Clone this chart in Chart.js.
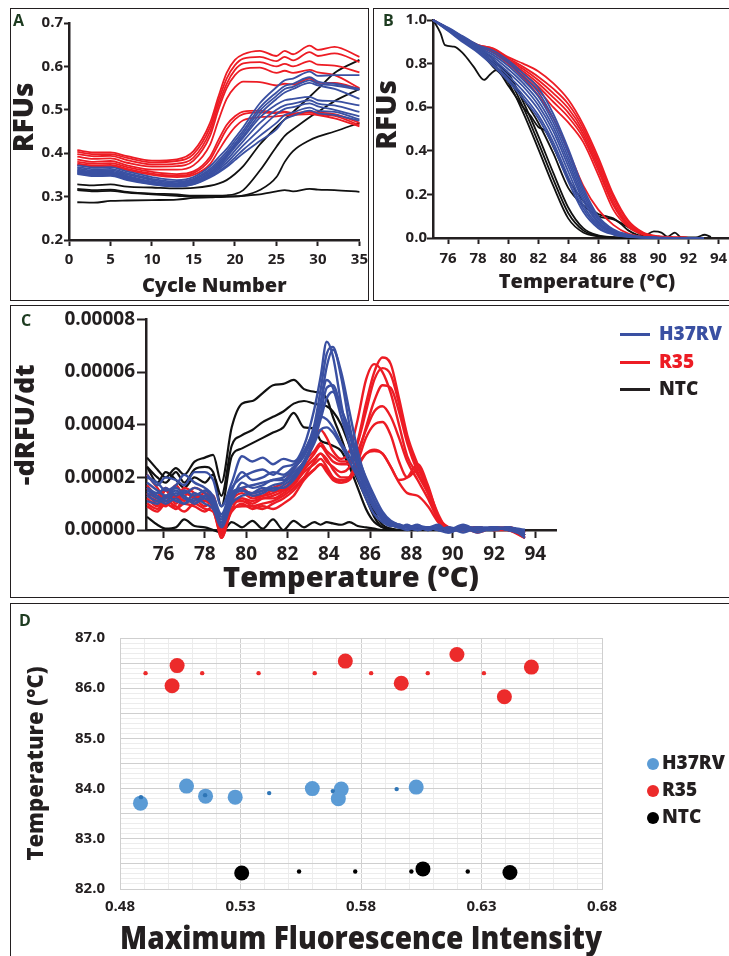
<!DOCTYPE html>
<html>
<head>
<meta charset="utf-8">
<title>qPCR amplification and melt analysis</title>
<script src="https://cdn.jsdelivr.net/npm/chart.js"></script>
<style>
  body { margin: 0; background: #fff; }
  #fig { position: relative; width: 729px; height: 956px; overflow: hidden; background: #fff; font-family: 'Open Sans', sans-serif; }
  canvas { position: absolute; }
  .box { position: absolute; border: 1.5px solid #231f20; box-sizing: border-box; pointer-events: none; }
  .tag { position: absolute; font: bold 16px/1 'Open Sans'; color: #1d3b20; }
  .key { position: absolute; font: 800 19px/26px 'Open Sans'; white-space: nowrap; }
  .key i { display: inline-block; width: 30px; height: 3px; vertical-align: middle; margin-right: 9px; }
  .dot { position: absolute; font: 800 19px/26px 'Open Sans'; white-space: nowrap; color: #231f20; }
  .dot i { display: inline-block; width: 12px; height: 12px; border-radius: 50%; vertical-align: middle; margin-right: 3px; }
</style>
</head>
<body>
<div id="fig">
  <canvas id="chartA" width="362" height="291" style="left:11px;top:9px"></canvas>
  <canvas id="chartB" width="382" height="291" style="left:374px;top:9px"></canvas>
  <canvas id="chartC" width="718" height="291" style="left:11px;top:306px"></canvas>
  <canvas id="chartD" width="718" height="351" style="left:11px;top:605px"></canvas>

  <div class="box" style="left:10px;top:8px;width:359px;height:293px"></div>
  <div class="box" style="left:373px;top:8px;width:370px;height:293px"></div>
  <div class="box" style="left:10px;top:305px;width:730px;height:293px"></div>
  <div class="box" style="left:10px;top:603px;width:730px;height:370px"></div>

  <div class="tag" style="left:13px;top:12px">A</div>
  <div class="tag" style="left:383px;top:12px">B</div>
  <div class="tag" style="left:21px;top:312px">C</div>
  <div class="tag" style="left:19px;top:612px">D</div>

  <div class="key" style="left:620px;top:320px;color:#3a50a2"><i style="background:#3a50a2"></i>H37RV</div>
  <div class="key" style="left:620px;top:348px;color:#ed1c24"><i style="background:#ed1c24"></i>R35</div>
  <div class="key" style="left:620px;top:375px;color:#231f20"><i style="background:#231f20"></i>NTC</div>

  <div class="dot" style="left:647px;top:749px"><i style="background:#5b9bd5"></i>H37RV</div>
  <div class="dot" style="left:647px;top:776px"><i style="background:#ec2b2b"></i>R35</div>
  <div class="dot" style="left:647px;top:803px"><i style="background:#000"></i>NTC</div>
</div>

<script>
const RED = '#ed1c24';
const BLUE = '#3a50a2';
const BLACK = '#111111';
const INK = '#231f20';

// ---- A: amplification curves (RFU per cycle)
const cycles = [1, 3, 5, 7, 10, 13, 15, 17, 18, 19, 20, 21, 23, 25, 26, 27, 29, 30, 32, 35];
const ampR35 = [
  [.407, .402, .402, .393, .383, .386, .405, .470, .530, .585, .615, .628, .636, .624, .636, .628, .648, .638, .645, .622],
  [.403, .398, .398, .389, .379, .382, .398, .460, .520, .572, .603, .618, .622, .612, .622, .614, .633, .624, .630, .610],
  [.398, .393, .394, .384, .374, .376, .390, .450, .510, .560, .592, .607, .610, .600, .606, .600, .612, .604, .602, .586],
  [.392, .387, .388, .378, .369, .370, .383, .440, .500, .550, .580, .594, .597, .585, .590, .585, .592, .586, .580, .550],
  [.385, .380, .382, .372, .362, .362, .372, .420, .475, .525, .552, .565, .564, .556, .560, .558, .572, .562, .562, .548],
  [.380, .376, .377, .368, .357, .352, .358, .392, .430, .465, .485, .496, .498, .494, .496, .492, .496, .494, .490, .470],
  [.376, .372, .373, .364, .353, .348, .354, .385, .420, .455, .478, .490, .494, .492, .494, .490, .494, .490, .486, .465],
  [.373, .369, .370, .361, .350, .345, .350, .375, .405, .435, .460, .476, .483, .485, .487, .488, .490, .488, .480, .462]
];
const ampH37RV = [
  [.372, .367, .368, .358, .345, .338, .345, .370, .390, .410, .435, .460, .515, .552, .568, .572, .588, .578, .580, .580],
  [.368, .363, .364, .354, .341, .334, .341, .364, .383, .403, .428, .452, .505, .540, .555, .560, .575, .565, .560, .548],
  [.365, .360, .361, .351, .338, .331, .338, .360, .378, .398, .422, .446, .498, .532, .548, .553, .568, .560, .556, .546],
  [.362, .357, .358, .348, .335, .329, .335, .356, .374, .394, .418, .440, .490, .525, .540, .548, .562, .556, .548, .525],
  [.360, .355, .356, .346, .333, .327, .333, .353, .370, .390, .414, .436, .482, .512, .522, .525, .530, .522, .520, .510],
  [.358, .353, .354, .344, .331, .326, .331, .350, .366, .384, .406, .428, .470, .500, .510, .514, .522, .514, .510, .495],
  [.356, .351, .352, .342, .330, .325, .330, .348, .362, .378, .398, .418, .455, .490, .502, .506, .515, .508, .500, .485],
  [.354, .349, .350, .340, .329, .324, .329, .346, .358, .372, .390, .408, .440, .470, .488, .494, .505, .498, .495, .478],
  [.352, .347, .348, .338, .328, .323, .328, .344, .355, .368, .384, .400, .428, .455, .478, .486, .498, .492, .488, .475]
];
const ampNTC = [
  [.328, .326, .328, .323, .321, .319, .320, .325, .330, .338, .352, .370, .420, .460, .478, .495, .530, .548, .585, .615],
  [.318, .315, .316, .311, .307, .305, .302, .302, .302, .303, .306, .315, .360, .415, .440, .455, .483, .495, .520, .548],
  [.315, .312, .313, .309, .305, .302, .300, .299, .299, .300, .300, .302, .315, .345, .380, .405, .430, .438, .450, .470],
  [.287, .286, .290, .291, .292, .293, .297, .298, .299, .300, .301, .302, .305, .312, .315, .312, .318, .316, .315, .311]
];

// ---- B: normalised melt curves
const meltTemps = [75, 76, 77, 78, 79, 80, 81, 82, 83, 84, 85, 86, 87, 88, 89, 90, 91, 92, 93];
const meltR35 = [
  [1, .96, .92, .885, .87, .83, .80, .765, .71, .635, .52, .37, .20, .08, .025, .008, .003, .001, 0],
  [1, .96, .92, .885, .868, .825, .785, .74, .685, .615, .505, .355, .19, .075, .022, .006, .002, .001, 0],
  [1, .96, .92, .883, .862, .818, .775, .725, .665, .595, .49, .34, .175, .065, .02, .006, .002, .001, 0],
  [1, .96, .92, .882, .858, .81, .765, .71, .645, .575, .475, .325, .16, .06, .018, .005, .002, .001, 0],
  [1, .96, .92, .88, .855, .805, .755, .695, .625, .555, .46, .31, .15, .055, .016, .005, .002, .001, 0],
  [1, .96, .92, .88, .85, .80, .745, .68, .60, .53, .44, .29, .13, .05, .015, .004, .001, 0, 0],
  [1, .96, .92, .88, .855, .80, .735, .655, .55, .40, .24, .13, .06, .02, .006, .002, .001, 0, 0]
];
const meltH37RV = [
  [1, .965, .925, .885, .86, .815, .755, .69, .57, .41, .23, .10, .04, .015, .005, .002, .001, .001, 0],
  [1, .963, .922, .88, .85, .805, .74, .67, .55, .39, .215, .09, .035, .012, .004, .002, .001, 0, 0],
  [1, .96, .918, .875, .84, .79, .725, .65, .53, .37, .20, .085, .032, .01, .004, .001, .001, 0, 0],
  [1, .958, .914, .87, .83, .775, .71, .63, .51, .35, .185, .075, .028, .01, .003, .001, 0, 0, 0],
  [1, .956, .91, .865, .82, .76, .695, .61, .49, .33, .17, .068, .025, .008, .003, .001, 0, 0, 0],
  [1, .954, .906, .86, .81, .745, .675, .59, .465, .305, .15, .06, .022, .007, .002, .001, 0, 0, 0],
  [1, .952, .902, .855, .80, .73, .655, .565, .44, .28, .135, .052, .018, .006, .002, .001, 0, 0, 0],
  [1, .95, .898, .85, .79, .72, .64, .55, .42, .26, .12, .045, .016, .005, .002, .001, 0, 0, 0]
];
const meltNTC = [
  [1, .96, .918, .872, .805, .755, .625, .47, .30, .14, .045, .012, .004, .001, 0, 0, 0, 0, 0],
  [1, .958, .915, .868, .795, .735, .60, .44, .27, .115, .035, .01, .003, .001, 0, 0, 0, 0, 0],
  [1, .955, .91, .862, .785, .715, .575, .41, .24, .09, .025, .008, .002, .001, 0, 0, 0, 0, 0],
  [1, .96, .92, .875, .82, .74, .64, .53, .39, .23, .15, .10, .085, .05, .012, .004, .001, 0, 0]
];
// one NTC trace is noisy, read on its own temperature points
const ntcNoisyTemps = [75, 75.5, 75.8, 76.4, 77, 77.7, 78.4, 78.8, 79.2, 80, 81, 81.5, 82, 82.5, 83, 84, 85, 86, 86.5, 87, 87.5, 88, 89, 89.7, 90.2, 90.6, 91.1, 91.5, 92.5, 93.1, 93.5];
const ntcNoisyRfu = [1, .94, .885, .878, .847, .786, .725, .75, .77, .70, .60, .56, .51, .49, .42, .27, .17, .11, .10, .09, .065, .035, .008, .03, .025, .006, .025, .004, .003, .015, .004];

// ---- C: derivative melt peaks, -dRFU/dt in units of 1e-5
const derivTemps = [75.2, 75.7, 76.1, 76.6, 77.0, 77.5, 78.0, 78.4, 78.8, 79.3,
  79.8, 80.3, 80.8, 81.3, 81.8, 82.3, 82.8, 83.3, 83.6, 83.9,
  84.2, 84.6, 85.0, 85.4, 85.8, 86.2, 86.6, 87.0, 87.4, 87.8,
  88.3, 88.8, 89.3, 89.8, 90.5, 91.2, 92.0, 92.7, 93.5];
const derivH37RV = [
  [2.1, 1.7, 2.0, 1.9, 1.7, 2.2, 2.2, 1.9, 0.9, 1.8, 2.8, 2.6, 2.75, 2.5, 2.7, 2.6, 3.2, 4.6, 5.8, 7.15, 6.6, 4.8, 3.2, 2.0, 1.2, 0.6, 0.3, 0.15, 0.2, 0.1, 0.15, 0.1, 0.2, -0.1, 0.1, -0.1, 0.1, 0.0, -0.2],
  [1.6, 1.4, 1.6, 1.3, 1.5, 1.3, 1.5, 1.2, 0.5, 1.4, 1.6, 1.7, 1.8, 1.9, 2.0, 2.3, 2.9, 4.0, 5.3, 6.7, 6.95, 5.8, 4.0, 2.6, 1.6, 0.9, 0.4, 0.2, 0.1, 0.15, 0.1, 0.1, 0.0, 0.1, -0.1, 0.1, 0.0, 0.1, -0.3],
  [1.3, 1.1, 1.2, 1.5, 1.2, 1.1, 1.3, 1.0, 0.2, 1.2, 1.5, 1.4, 1.5, 1.7, 1.8, 2.1, 2.6, 3.6, 4.8, 6.2, 6.85, 6.0, 4.5, 3.0, 1.9, 1.1, 0.5, 0.25, 0.15, 0.1, 0.2, 0.0, 0.1, 0.0, 0.1, 0.0, 0.1, 0.0, -0.1],
  [1.8, 1.5, 1.3, 1.6, 1.4, 1.6, 1.4, 1.1, 0.4, 1.5, 2.2, 1.9, 2.0, 2.2, 2.1, 2.4, 2.8, 3.8, 4.8, 5.7, 5.4, 4.3, 3.3, 2.4, 1.6, 0.9, 0.5, 0.3, 0.2, 0.1, 0.0, 0.1, 0.1, 0.0, 0.2, 0.0, 0.1, 0.1, 0.0],
  [1.1, 1.0, 1.3, 1.1, 1.0, 1.2, 1.0, 0.8, 0.1, 1.0, 1.3, 1.4, 1.6, 1.5, 1.7, 2.0, 2.5, 3.5, 4.4, 5.4, 5.5, 4.6, 3.6, 2.6, 1.8, 1.1, 0.6, 0.3, 0.1, 0.2, 0.0, 0.1, 0.0, -0.1, 0.1, 0.1, 0.0, 0.1, -0.2],
  [1.5, 1.3, 1.1, 1.4, 1.3, 1.0, 1.2, 0.9, 0.3, 1.1, 1.8, 1.6, 1.7, 1.9, 1.9, 2.2, 2.6, 3.4, 4.2, 5.0, 5.25, 4.6, 3.8, 2.8, 2.0, 1.3, 0.7, 0.35, 0.2, 0.1, 0.1, 0.0, 0.1, 0.0, 0.0, 0.1, 0.1, 0.0, -0.1],
  [2.0, 1.8, 1.5, 1.7, 2.1, 1.8, 1.6, 1.3, 0.6, 1.6, 2.0, 2.2, 2.3, 2.1, 2.4, 2.5, 3.0, 3.8, 4.3, 4.2, 3.9, 3.3, 2.8, 2.2, 1.5, 0.9, 0.4, 0.2, 0.1, 0.1, 0.0, 0.1, 0.0, 0.1, 0.0, 0.0, 0.1, 0.0, 0.0],
  [1.4, 1.2, 1.0, 1.2, 1.0, 1.4, 1.2, 1.0, 0.2, 1.3, 1.5, 1.3, 1.4, 1.6, 1.6, 1.9, 2.5, 3.3, 3.8, 3.9, 3.7, 3.2, 2.6, 2.0, 1.4, 0.8, 0.4, 0.2, 0.1, 0.0, 0.1, 0.0, 0.1, 0.0, 0.1, 0.0, 0.0, 0.1, -0.1]
];
const derivR35 = [
  [1.4, 1.0, 1.5, 1.0, 1.4, 1.2, 0.9, 1.1, -0.3, 0.8, 1.2, 1.0, 1.2, 1.3, 1.5, 2.0, 2.6, 3.0, 3.3, 3.0, 2.8, 2.6, 2.6, 3.4, 4.8, 6.0, 6.55, 6.3, 5.0, 3.6, 2.5, 1.6, 0.6, 0.0, 0.1, 0.0, 0.1, 0.1, -0.2],
  [2.1, 1.6, 1.2, 1.7, 1.3, 1.6, 1.4, 1.0, 0.0, 1.3, 1.5, 1.4, 1.5, 1.6, 1.8, 2.3, 2.9, 3.5, 3.8, 3.5, 3.0, 2.7, 3.0, 4.2, 5.7, 6.3, 6.0, 5.2, 4.0, 2.8, 2.1, 1.4, 0.5, 0.0, 0.1, -0.1, 0.1, 0.0, -0.3],
  [1.2, 0.9, 1.3, 0.8, 1.2, 1.0, 1.3, 0.8, -0.2, 1.0, 1.1, 0.9, 0.8, 1.0, 1.2, 1.5, 2.0, 2.6, 2.9, 2.6, 2.4, 2.2, 2.4, 3.3, 4.5, 5.7, 6.15, 5.9, 4.8, 3.4, 2.4, 1.5, 0.5, 0.1, 0.0, 0.1, 0.0, 0.1, -0.1],
  [1.0, 0.8, 1.1, 0.9, 0.7, 1.0, 0.8, 0.7, -0.1, 0.7, 1.0, 0.8, 0.9, 0.8, 1.0, 1.3, 1.9, 2.3, 2.5, 2.3, 2.0, 1.9, 2.0, 2.8, 3.9, 4.9, 5.5, 5.4, 4.5, 3.3, 2.2, 1.4, 0.4, 0.0, 0.1, 0.0, 0.1, 0.0, -0.2],
  [1.7, 1.3, 1.6, 1.2, 1.6, 1.4, 1.1, 1.3, 0.1, 1.2, 1.6, 1.3, 1.3, 1.4, 1.6, 1.9, 2.4, 2.9, 3.2, 2.9, 2.6, 2.5, 2.5, 3.0, 3.8, 4.5, 4.7, 4.3, 3.5, 2.6, 1.9, 1.2, 0.4, 0.1, 0.0, 0.1, 0.0, 0.1, -0.1],
  [1.3, 1.1, 0.9, 1.3, 1.1, 1.3, 1.1, 0.9, -0.1, 1.0, 1.2, 1.1, 1.2, 1.2, 1.4, 1.7, 2.2, 2.5, 2.7, 2.4, 2.0, 1.8, 1.9, 2.4, 2.9, 3.05, 2.9, 2.4, 1.8, 1.4, 1.3, 0.9, 0.3, 0.0, 0.1, 0.0, 0.1, 0.0, -0.2],
  [1.6, 1.2, 1.5, 1.1, 1.5, 1.2, 1.4, 1.1, 0.0, 1.1, 1.4, 1.2, 1.3, 1.5, 1.5, 1.8, 2.3, 2.7, 2.9, 2.7, 2.3, 2.0, 2.0, 2.5, 2.9, 3.0, 2.9, 2.4, 1.9, 2.0, 2.5, 1.7, 0.5, 0.0, 0.1, 0.1, 0.0, 0.0, -0.3],
  [0.9, 0.7, 1.0, 0.8, 1.0, 0.9, 0.7, 0.9, -0.3, 0.8, 0.9, 0.9, 1.0, 1.1, 1.3, 1.6, 2.0, 2.3, 2.5, 2.2, 1.9, 1.8, 2.0, 2.6, 3.5, 4.0, 4.1, 3.6, 2.6, 2.0, 2.3, 1.6, 0.4, 0.0, 0.0, 0.1, 0.0, 0.1, -0.1]
];
const derivNTC = [
  [2.75, 2.3, 2.0, 2.35, 2.1, 2.6, 2.75, 2.85, 1.8, 3.9, 4.8, 4.9, 5.2, 5.5, 5.55, 5.7, 5.35, 5.25, 5.2, 5.0, 4.3, 3.5, 2.6, 1.9, 1.2, 0.5, 0.1, 0.05, 0.0, 0.0, 0.05, 0.0, 0.0, 0.05, 0.0, 0.0, 0.05, 0.0, 0.0],
  [2.4, 1.8, 2.2, 1.9, 1.6, 2.0, 1.8, 2.1, 1.3, 3.2, 3.6, 3.8, 4.1, 4.3, 4.5, 4.8, 4.9, 4.8, 4.75, 4.7, 4.5, 4.0, 3.2, 2.4, 1.5, 0.7, 0.2, 0.05, 0.0, 0.0, 0.0, 0.05, 0.0, 0.0, 0.05, 0.0, 0.0, 0.0, 0.0],
  [2.4, 2.0, 1.8, 2.2, 1.8, 2.3, 2.4, 2.2, 0.9, 2.8, 3.1, 3.3, 3.5, 3.7, 3.9, 4.45, 3.9, 3.85, 3.4, 3.3, 3.2, 3.0, 2.4, 1.6, 0.8, 0.3, 0.1, 0.0, 0.0, 0.0, 0.0, 0.0, 0.05, 0.0, 0.0, 0.05, 0.0, 0.0, 0.0],
  [0.5, 0.2, 0.05, 0.1, 0.4, 0.15, 0.1, 0.0, -0.1, 0.3, 0.1, 0.35, 0.05, 0.4, 0.0, 0.35, 0.1, 0.3, 0.2, 0.3, 0.25, 0.2, 0.3, 0.15, 0.1, 0.05, 0.0, 0.0, 0.0, 0.0, 0.0, 0.0, 0.0, 0.0, 0.0, 0.0, 0.0, 0.0, 0.0]
];

// ---- D: peak temperature vs maximum fluorescence
const maxH37RV = [0.4885, 0.5076, 0.5155, 0.5278, 0.5598, 0.5718, 0.5706, 0.6029];
const tmH37RV = [83.71, 84.05, 83.85, 83.83, 84.00, 83.99, 83.80, 84.03];
const maxR35 = [0.5016, 0.5037, 0.5735, 0.5967, 0.6198, 0.6395, 0.6507];
const tmR35 = [86.05, 86.45, 86.54, 86.10, 86.67, 85.83, 86.42];
const maxNTC = [0.5305, 0.6057, 0.6418];
const tmNTC = [82.32, 82.40, 82.33];
// the small markers in the same colours
const meanH37RVx = [0.4887, 0.5153, 0.5419, 0.5683, 0.5948];
const meanH37RVy = [83.83, 83.87, 83.91, 83.95, 83.99];
const meanR35x = [0.4906, 0.5141, 0.5375, 0.5608, 0.5842, 0.6077, 0.6310];
const meanR35y = [86.30, 86.30, 86.30, 86.30, 86.30, 86.30, 86.30];
const meanNTCx = [0.5543, 0.5776, 0.6009, 0.6243];
const meanNTCy = [82.35, 82.35, 82.35, 82.35];

Chart.defaults.font.family = "'Open Sans', sans-serif";
Chart.defaults.font.weight = 'bold';
Chart.defaults.color = INK;

function curves(xs, rows, color, width) {
  return rows.map(ys => ({
    data: ys.map((y, i) => ({ x: xs[i], y: y })),
    borderColor: color,
    borderWidth: width,
    pointRadius: 0,
    cubicInterpolationMode: 'monotone',
    clip: false
  }));
}

function dots(xs, ys, color, r) {
  return {
    data: xs.map((x, i) => ({ x: x, y: ys[i] })),
    backgroundColor: color,
    borderWidth: 0,
    pointRadius: r
  };
}

// black axis with outward tick marks, as in panels A-C
function inkAxis(o) {
  return {
    type: 'linear',
    min: o.min,
    max: o.max,
    ticks: {
      stepSize: o.step, includeBounds: o.bounds !== false, padding: o.pad,
      font: { size: o.size }, color: INK, maxRotation: 0, autoSkip: false,
      callback: o.fmt
    },
    grid: { drawOnChartArea: false, tickLength: o.tick, tickWidth: 2, color: INK },
    border: { color: INK, width: 2.5 },
    title: {
      display: true, text: o.title, color: INK,
      font: { size: o.titleSize, weight: '800', lineHeight: o.titleLH || 1.2 },
      padding: o.titlePad
    },
    afterFit: s => { if (s.isHorizontal()) s.height = o.fit; else s.width = o.fit; }
  };
}

function baseOptions(padding, scales) {
  return {
    responsive: false,
    animation: false,
    events: [],
    layout: { padding: padding },
    plugins: { legend: { display: false }, tooltip: { enabled: false } },
    scales: scales
  };
}

new Chart(document.getElementById('chartA'), {
  type: 'line',
  data: {
    datasets: [
      ...curves(cycles, ampH37RV, BLUE, 1.8),
      ...curves(cycles, ampR35, RED, 1.8),
      ...curves(cycles, ampNTC, BLACK, 1.8)
    ]
  },
  options: baseOptions({ top: 14, right: 12, bottom: 0, left: 0 }, {
    x: inkAxis({ min: 0, max: 35, step: 5, pad: 5, size: 15, tick: 6, fit: 60,
      title: 'Cycle Number', titleSize: 20, titlePad: { top: 0, bottom: 2 } }),
    y: inkAxis({ min: 0.2, max: 0.7, step: 0.1, pad: 1, size: 15, tick: 5, fit: 58,
      fmt: v => v.toFixed(1),
      title: '\u2003RFUs', titleSize: 28, titleLH: 1, titlePad: { top: 0, bottom: 0 } })
  })
});

new Chart(document.getElementById('chartB'), {
  type: 'line',
  data: {
    datasets: [
      ...curves(meltTemps, meltH37RV, BLUE, 1.8),
      ...curves(meltTemps, meltR35, RED, 1.8),
      ...curves(meltTemps, meltNTC, BLACK, 1.8),
      ...curves(ntcNoisyTemps, [ntcNoisyRfu], BLACK, 1.8)
    ]
  },
  options: baseOptions({ top: 11, right: 15, bottom: 0, left: 0 }, {
    x: inkAxis({ min: 75, max: 95.5, step: 2, bounds: false, pad: 6, size: 15, tick: 6, fit: 62,
      title: 'Temperature (\u00b0C)', titleSize: 20, titlePad: { top: 0, bottom: 6 } }),
    y: inkAxis({ min: 0, max: 1, step: 0.2, pad: 0, size: 15, tick: 6, fit: 59,
      fmt: v => v.toFixed(1),
      title: '\u2003RFUs', titleSize: 28, titleLH: 1, titlePad: { top: 0, bottom: 0 } })
  })
});

new Chart(document.getElementById('chartC'), {
  type: 'line',
  data: {
    datasets: [
      ...curves(derivTemps, derivH37RV, BLUE, 2.4),
      ...curves(derivTemps, derivR35, RED, 2.4),
      ...curves(derivTemps, derivNTC, BLACK, 2.2)
    ]
  },
  options: baseOptions({ top: 11, right: 173, bottom: 0, left: 0 }, {
    x: inkAxis({ min: 75.15, max: 95, step: 2, bounds: false, pad: 5, size: 19, tick: 8, fit: 67,
      title: 'Temperature (\u00b0C)', titleSize: 29, titlePad: { top: 0, bottom: 1 } }),
    y: inkAxis({ min: 0, max: 8, step: 2, pad: 2, size: 19, tick: 9, fit: 135,
      fmt: v => (v / 1e5).toFixed(5),
      title: '-dRFU/dt', titleSize: 27, titleLH: 1, titlePad: { top: 2, bottom: 0 } })
  })
});

new Chart(document.getElementById('chartD'), {
  type: 'scatter',
  data: {
    datasets: [
      dots(meanH37RVx, meanH37RVy, '#2e75b6', 2.2),
      dots(meanR35x, meanR35y, '#ec2b2b', 2.2),
      dots(meanNTCx, meanNTCy, '#000', 2.2),
      dots(maxH37RV, tmH37RV, '#5b9bd5', 7.5),
      dots(maxR35, tmR35, '#ec2b2b', 7.5),
      dots(maxNTC, tmNTC, '#000', 7.5)
    ]
  },
  options: baseOptions({ top: 33, right: 127, bottom: 0, left: 0 }, {
    x: {
      type: 'linear', min: 0.48, max: 0.68,
      ticks: { stepSize: 0.01, autoSkip: false, maxRotation: 0, padding: 9, font: { size: 15 }, color: INK,
        callback: (v, i) => i % 5 === 0 ? v.toFixed(2) : '' },
      grid: { drawTicks: false, color: c => c.index % 5 === 0 ? '#cfcfcf' : '#ececec' },
      border: { color: '#cfcfcf' },
      title: { display: true, text: 'Maximum Fluorescence Intensity', color: INK,
        font: { size: 31, weight: '800', lineHeight: 1 }, padding: { top: 0, bottom: 0 } },
      afterFit: s => { s.height = 67; }
    },
    y: {
      type: 'linear', min: 82, max: 87,
      ticks: { stepSize: 0.1, autoSkip: false, padding: 15, font: { size: 15 }, color: INK,
        callback: (v, i) => i % 10 === 0 ? v.toFixed(1) : '' },
      grid: { drawTicks: false, color: c => c.index % 5 === 0 ? '#cfcfcf' : '#ececec' },
      border: { color: '#cfcfcf' },
      title: { display: true, text: 'Temperature (\u00b0C)', color: INK,
        font: { size: 22, weight: '800', lineHeight: 1 }, padding: { top: 15, bottom: 0 } },
      afterFit: s => { s.width = 109; }
    }
  })
});
</script>
</body>
</html>
